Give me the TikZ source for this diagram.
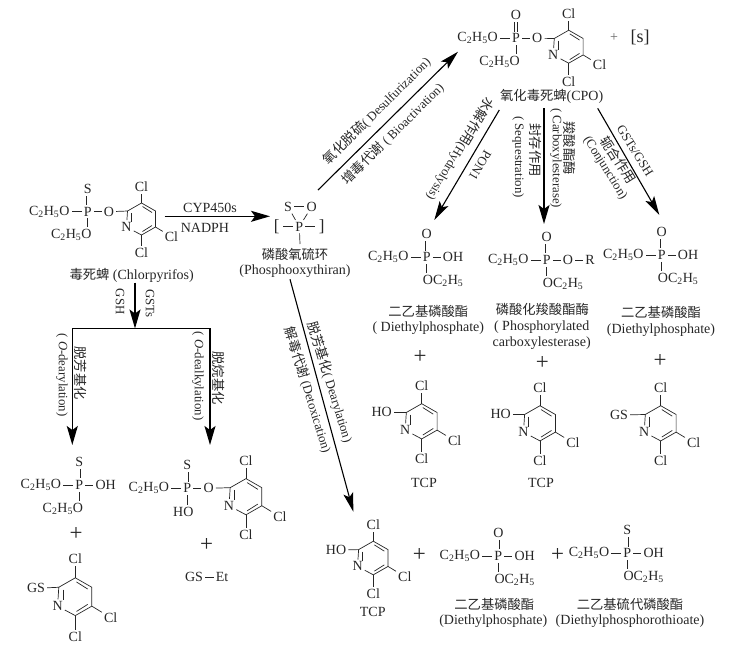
\documentclass[tikz,border=0pt]{standalone}
\usepackage{fontspec}
\setmainfont{Liberation Serif}
\newfontfamily\cjk{Noto Sans CJK SC}
\newcommand{\zh}[1]{{\fontsize{13.3}{16}\selectfont\cjk #1}}
\newcommand{\ethyl}{C\textsubscript{2}H\textsubscript{5}}
\usetikzlibrary{arrows.meta, calc}

\begin{document}
\begin{tikzpicture}[
        x=1pt, y=-1pt,
        every node/.style={text=black!85},
        atom/.style={inner sep=2pt, font=\fontsize{14}{16}\selectfont},
        lab/.style={inner sep=0pt, align=center, font=\fontsize{14}{16.5}\selectfont},
        rlab/.style={inner sep=0pt, align=center, font=\fontsize{12.8}{15}\selectfont},
        plus/.style={inner sep=0pt, font=\fontsize{23}{23}\selectfont},
        bond/.style={line width=0.7pt, draw=black!85},
        dbond/.style={line width=0.55pt, draw=black!85, double, double distance=2.2pt},
        arrow/.style={-{Stealth[length=19pt, width=10pt, inset=4pt]}, line width=1.1pt},
        bigarrow/.style={-{Stealth[length=19pt, width=11pt, inset=4pt]}, line width=1.5pt},
        pics/pyring/.style={code={
                    \coordinate (c2) at (-14,-8);
                    \coordinate (c3) at (0,-16);
                    \coordinate (c4) at (14,-8);
                    \coordinate (c5) at (14,8);
                    \coordinate (c6) at (0,16);
                    \node[atom] (n) at (-15,8) {N};
                    \node[atom] (cla) at (0,-32) {Cl};
                    \node[atom] (clb) at (30,17.7) {Cl};
                    \node[atom] (clc) at (0,34) {Cl};
                    \draw[bond] (c2) -- (c3) -- (c4) -- (c5) -- (c6) -- (n) -- (c2);
                    \draw[bond] (1,-12.5) -- (10.5,-6.5);
                    \draw[bond] (10.5,6.5) -- (1,12.5);
                    \draw[bond] (-10.5,-6) -- (-10.5,3);
                    \draw[bond] (c3) -- (cla);
                    \draw[bond] (c5) -- (clb);
                    \draw[bond] (c6) -- (clc);
                }},
        pics/phos/.style n args={4}{code={
                    \node[atom] (p) at (0,0) {P};
                    \node[atom] (t) at (0,-23) {#1};
                    \node[atom, anchor=east] (l) at (-16,0) {\ethyl O};
                    \node[atom, anchor=west] (r) at (14,0) {#2};
                    \node[atom, #4] (b) at (0,23.5) {#3};
                    \draw[dbond] (t) -- (p);
                    \draw[bond] (p) -- (l);
                    \draw[bond] (p) -- (r);
                    \draw[bond] (p.south) -- (p.south |- b.north);
                }}
    ]
    \useasboundingbox (0,0) rectangle (743,657);

    \pic (ch-) at (87.7,211.7) {phos={S}{O}{\ethyl O}{anchor=east, xshift=6pt}};
    \pic (r1-) at (141.5,219) {pyring};
    \draw[bond] (ch-r) -- (r1-c2);
    \node[lab] (chname) at (131.7,275.7) {\zh{毒死蜱} (Chlorpyrifos)};

    \node[atom] (ps) at (288,206.7) {S};
    \node[atom] (po) at (311.7,206.7) {O};
    \node[atom] (pp) at (299.3,226.7) {P};
    \node[lab, font=\fontsize{17}{17}\selectfont] (pbl) at (276.7,226.7) {[};
    \node[lab, font=\fontsize{17}{17}\selectfont] (pbr) at (321.7,226.7) {]};
    \coordinate (pdown) at (300,244);
    \draw[bond] (ps) -- (po);
    \draw[bond] (ps) -- (pp);
    \draw[bond] (po) -- (pp);
    \draw[bond, shorten >=3.5pt] (pp) -- (pbl);
    \draw[bond, shorten >=3.5pt] (pp) -- (pbr);
    \draw[bond] (pp) -- (pdown);
    \node[lab] (pname) at (295,254) {\zh{磷酸氧硫环}};
    \node[lab] (pnameen) at (295,271) {(Phosphooxythiran)};

    \coordinate (cypa) at (164.7,216.3);
    \coordinate (cypb) at (270,216.3);
    \draw[bigarrow] (cypa) -- (cypb);
    \node[lab] (cyp) at (210,208.3) {CYP450s};
    \node[lab] (nadph) at (205,228) {NADPH};

    \coordinate (forka) at (135,282.7);
    \coordinate (forkb) at (135,328.5);
    \coordinate (lefttip) at (72.3,445);
    \coordinate (righttip) at (210,445);
    \draw[bigarrow] (forka) -- (forkb);
    \draw[bigarrow] (forkb) -| (lefttip);
    \draw[bigarrow] (forkb) -| (righttip);
    \node[rlab, rotate=-90] (gsh) at (120,301.7) {GSH};
    \node[rlab, rotate=-90] (gsts) at (150,303.3) {GSTs};
    \node[rlab, rotate=-90] (dearen) at (62,375) {( \textit{O}-dearylation)};
    \node[rlab, rotate=-90] (dearzh) at (81,373) {\zh{脱芳基化}};
    \node[rlab, rotate=-90] (dealen) at (198,376) {( \textit{O}-dealkylation)};
    \node[rlab, rotate=-90] (dealzh) at (219,378) {\zh{脱烷基化}};

    \pic (m1-) at (79.3,485) {phos={S}{OH}{\ethyl O}{anchor=east, xshift=6pt}};
    \node[plus] (plusa) at (76,534) {+};
    \pic[scale=1.18] (r2-) at (75.3,596.7) {pyring};
    \node[atom] (gsa) at (36,588.3) {GS};
    \draw[bond] (gsa) -- (r2-c2);

    \pic (m2-) at (187.3,488.3) {phos={S}{O}{HO}{xshift=-4pt}};
    \pic[scale=1.13] (r3-) at (246,496.7) {pyring};
    \draw[bond] (m2-r) -- (r3-c2);
    \node[plus] (plusb) at (206.7,545) {+};
    \node[atom] (gsb) at (194,577.3) {GS};
    \node[atom] (et) at (222,577.3) {Et};
    \draw[bond] (gsb) -- (et);

    \coordinate (detoxa) at (290,279.3);
    \coordinate (detoxb) at (353.3,511.7);
    \draw[arrow] (detoxa) -- (detoxb);
    \node[rlab, rotate=-73] (detoxen) at (330,382) {\zh{脱芳基化}( Dearylation)};
    \node[rlab, rotate=-73] (detoxzh) at (308,390) {\zh{解毒代谢} (Detoxication)};

    \pic[scale=1.05] (r4-) at (373.3,558) {pyring};
    \node[atom] (hoa) at (336,550) {HO};
    \draw[bond] (hoa) -- (r4-c2);
    \node[lab] (tcpa) at (372.7,611.7) {TCP};
    \node[plus] (plusc) at (419.3,555) {+};
    \pic (m3-) at (498.3,556) {phos={O}{OH}{O\ethyl}{anchor=west, xshift=-6pt}};
    \node[lab] (m3zh) at (494.3,604.3) {\zh{二乙基磷酸酯}};
    \node[lab] (m3en) at (493.3,620.7) {(Diethylphosphate)};
    \node[plus] (plusd) at (557.7,555) {+};
    \pic (m4-) at (627.3,553.3) {phos={S}{OH}{O\ethyl}{anchor=west, xshift=-6pt}};
    \node[lab] (m4zh) at (630,604.3) {\zh{二乙基硫代磷酸酯}};
    \node[lab] (m4en) at (630,621) {(Diethylphosphorothioate)};

    \coordinate (desa) at (318,190);
    \coordinate (desb) at (458,51.7);
    \draw[arrow] (desa) -- (desb);
    \node[rlab, rotate=45] (deszh) at (377,111) {\zh{氧化脱硫}( Desulfurization)};
    \node[rlab, rotate=45] (desen) at (393,134) {\zh{增毒代谢} ( Bioactivation)};

    \pic (cp-) at (516,38.3) {phos={O}{O}{\ethyl O}{anchor=east, xshift=6pt}};
    \pic[scale=1.03] (r5-) at (568.7,46.7) {pyring};
    \draw[bond] (cp-r) -- (r5-c2);
    \node[lab] (cpname) at (551.7,96) {\zh{氧化毒死蜱}(CPO)};
    \node[lab, text=black!60] (plusg) at (614,37.7) {+};
    \node[lab, font=\fontsize{18}{18}\selectfont] (sulfur) at (640,37) {[s]};

    \coordinate (pona) at (499.3,110);
    \coordinate (ponb) at (434.3,220);
    \draw[arrow] (pona) -- (ponb);
    \node[rlab, rotate=-120.6] (hydro) at (460,149) {\zh{水解作用}(Hydrolysis)};
    \node[rlab, rotate=-120.6] (pon) at (480,165) {PON1};

    \coordinate (sema) at (544,108.3);
    \coordinate (semb) at (544,224);
    \draw[bigarrow] (sema) -- (semb);
    \node[rlab, rotate=-90] (carbzh) at (569.3,148) {\zh{羧酸酯酶}};
    \node[rlab, rotate=-90] (carben) at (556,158) {( Carboxylesterase)};
    \node[rlab, rotate=-90] (seqzh) at (535.7,150) {\zh{封存作用}};
    \node[rlab, rotate=-90] (seqen) at (518.3,157) {( Sequestration)};

    \coordinate (cona) at (597.7,108.3);
    \coordinate (conb) at (659.3,215);
    \draw[arrow] (cona) -- (conb);
    \node[rlab, rotate=-58] (congst) at (635,150.7) {GSTs/GSH};
    \node[rlab, rotate=-58] (conzh) at (618.3,160) {\zh{轭合作用}};
    \node[rlab, rotate=-58] (conen) at (605,168) {(Conjunction)};

    \pic (d1-) at (426.7,257.3) {phos={O}{OH}{O\ethyl}{anchor=west, xshift=-6pt}};
    \node[lab] (d1zh) at (428.3,311) {\zh{二乙基磷酸酯}};
    \node[lab] (d1en) at (428.3,328.3) {( Diethylphosphate)};
    \node[plus] (pluse) at (420,357.3) {+};
    \pic[scale=1.1] (r6-) at (421.7,421.3) {pyring};
    \node[atom] (hob) at (381.7,412.3) {HO};
    \draw[bond] (hob) -- (r6-c2);
    \node[lab] (tcpb) at (424,483.3) {TCP};

    \pic (d2-) at (546.7,260) {phos={O}{O}{O\ethyl}{anchor=west, xshift=-6pt}};
    \node[atom] (rest) at (590,260) {R};
    \draw[bond] (d2-r) -- (rest);
    \node[lab] (d2zh) at (542.3,309.3) {\zh{磷酸化羧酸酯酶}};
    \node[lab] (d2en) at (541.7,335) {( Phosphorylated\\carboxylesterase)};
    \node[plus] (plusf) at (542.3,362.7) {+};
    \pic[scale=1.1] (r7-) at (540,423.3) {pyring};
    \node[atom] (hoc) at (500.7,414.3) {HO};
    \draw[bond] (hoc) -- (r7-c2);
    \node[lab] (tcpc) at (541,483.3) {TCP};

    \pic (d3-) at (661.7,255) {phos={O}{OH}{O\ethyl}{anchor=west, xshift=-6pt}};
    \node[lab] (d3zh) at (661,312.7) {\zh{二乙基磷酸酯}};
    \node[lab] (d3en) at (661,330) {(Diethylphosphate)};
    \node[plus] (plush) at (660,360.7) {+};
    \pic[scale=1.1] (r8-) at (660.7,423.3) {pyring};
    \node[atom] (gsc) at (619,415) {GS};
    \draw[bond] (gsc) -- (r8-c2);
\end{tikzpicture}
\end{document}
